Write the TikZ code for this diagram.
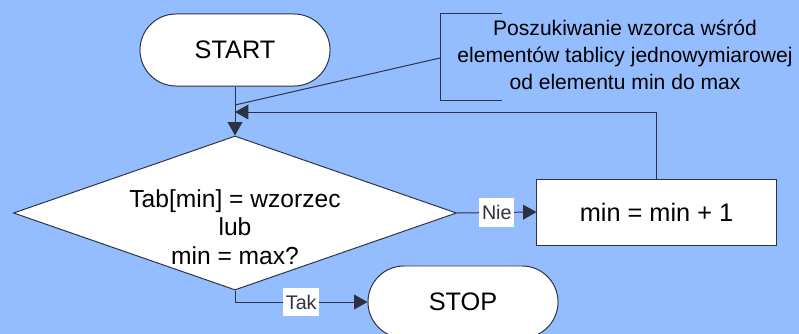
\documentclass[tikz,border=0pt]{standalone}
\usepackage{fontspec}
\setmainfont{Liberation Sans}
\usetikzlibrary{shapes.geometric,arrows.meta}
\definecolor{bgblue}{RGB}{148,189,255}
\definecolor{linegray}{RGB}{45,50,65}
\begin{document}
\begin{tikzpicture}[x=0.025cm, y=-0.025cm, line width=0.7pt, >={Triangle[length=9.5pt,width=10.5pt]},
    term node/.style={draw=linegray, fill=white, rounded corners=0.9cm, minimum width=4.75cm, minimum height=1.8cm, font=\fontsize{18}{20}\selectfont},
    test node/.style={draw=linegray, fill=white, diamond, aspect=2.88, inner sep=0pt, minimum width=11.075cm, minimum height=3.85cm},
    op node/.style={draw=linegray, fill=white, minimum width=5.975cm, minimum height=1.65cm, font=\fontsize{18}{20}\selectfont},
    label node/.style={fill=white, inner xsep=2pt, inner ysep=0pt, minimum height=20.5pt, font=\fontsize{14}{16}\selectfont}]

                \useasboundingbox (0,0) rectangle (799,334);
                \clip (0,0) rectangle (799,334);
                \fill[bgblue] (0,0) rectangle (799,334);

                \node[term node] at (235, 50) (start) {START};
                \node[test node] at (235, 213) (dec) {};
                \node[align=center, font=\fontsize{17.5}{20.4}\selectfont] at (235, 227) (cond) {Tab[min] = wzorzec\\lub\\min = max?};
                \node[op node] at (656.5, 212) (inc) {min = min + 1};
                \node[term node] at (463, 302) (stop) {STOP};
                \node[align=center, font=\fontsize{15}{19.1}\selectfont] at (625, 55) (note) {Poszukiwanie wzorca wśród\\elementów tablicy jednowymiarowej\\od elementu min do max};

                \coordinate (hit) at (235, 105);
                \coordinate (back) at (235, 112);
                \coordinate (brack) at (440, 58);

                \draw[->, linegray] (start) -- (dec);
                \draw[->, linegray] (inc.north) |- (back);
                \draw[->, linegray] (dec.east) -- node[label node] {Nie} (inc.west);
                \draw[->, linegray] (dec.south) |- node[label node, pos=0.75] {Tak} (stop.west);

                % komentarz
                \draw[linegray] (502, 13) -| (440, 100) -- (502, 100);
                \draw[linegray] (brack) -- (hit);
            \end{tikzpicture}
\end{document}
